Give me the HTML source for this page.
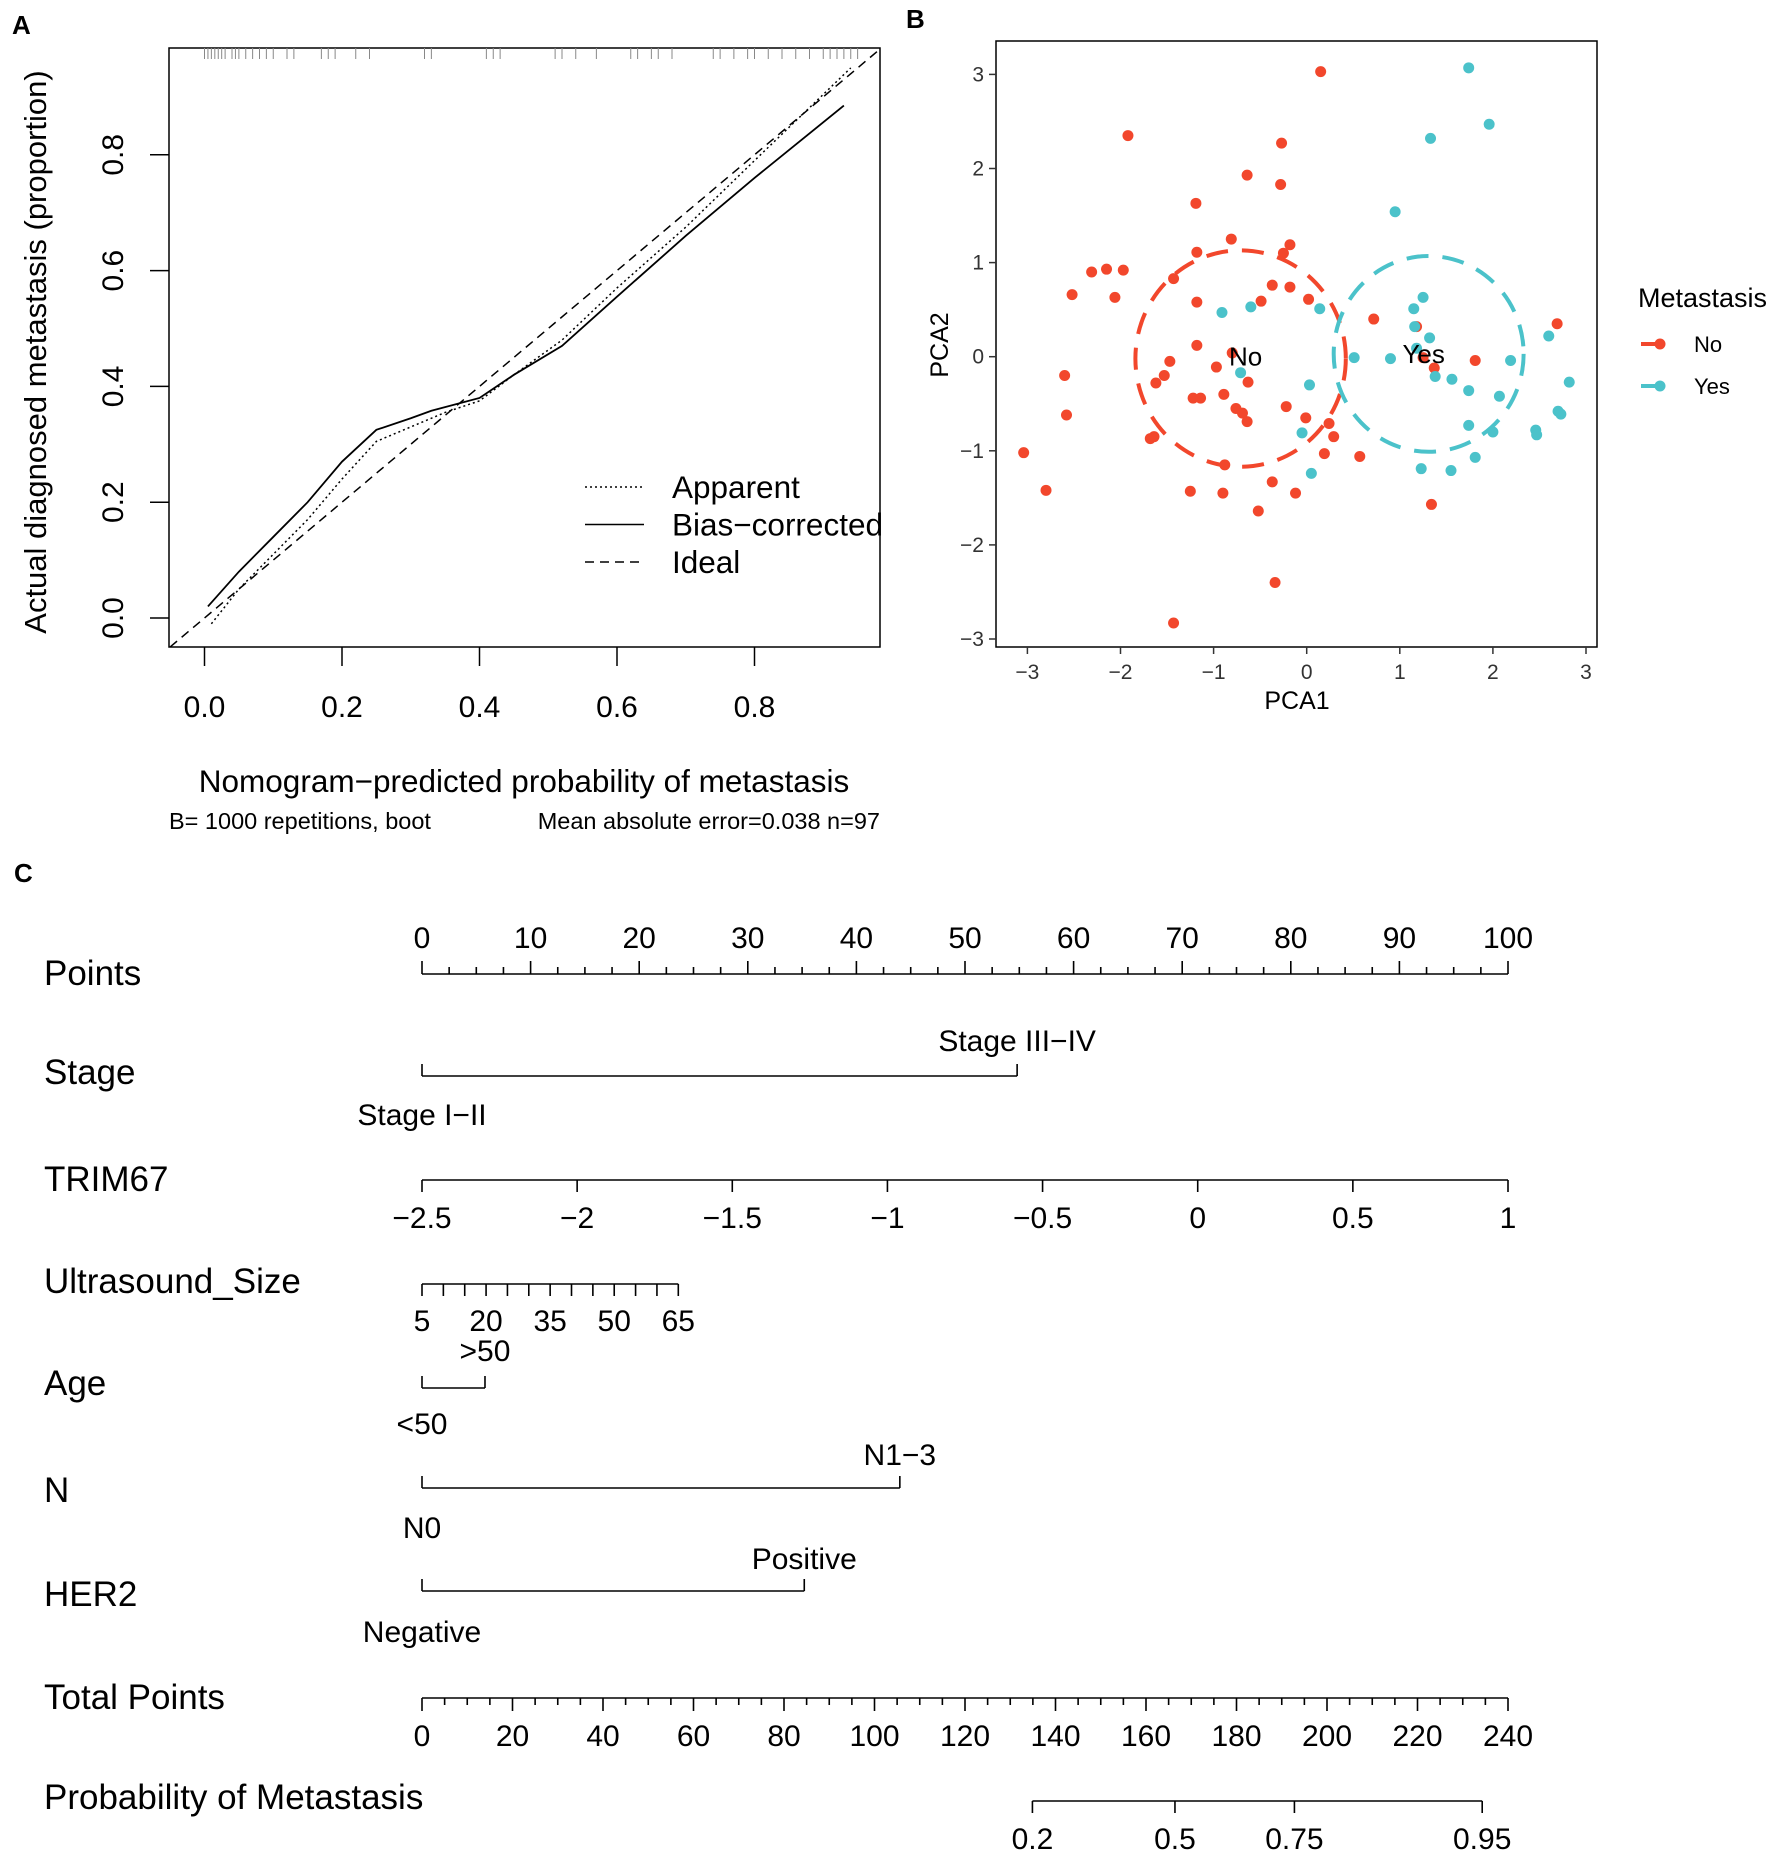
<!DOCTYPE html>
<html><head><meta charset="utf-8"><style>
html,body{margin:0;padding:0;background:#fff}
svg{display:block;font-family:"Liberation Sans",Arial,sans-serif}
</style></head><body>
<svg id="fig" width="1772" height="1855" viewBox="0 0 1772 1855" xmlns="http://www.w3.org/2000/svg">
<g id="pa"></g>
<g id="pb"></g>
<g id="pc"></g>
</svg>
<script>
// ---- Panel A data ----
const calTicks = [0, 0.2, 0.4, 0.6, 0.8];
const biasX = [0.005,0.05,0.1,0.15,0.2,0.25,0.3,0.33,0.4,0.45,0.52,0.6,0.7,0.8,0.93];
const biasY = [0.02,0.08,0.14,0.2,0.27,0.325,0.345,0.358,0.38,0.42,0.47,0.555,0.66,0.76,0.885];
const appX = [0.01,0.05,0.1,0.15,0.2,0.25,0.3,0.35,0.4,0.45,0.52,0.6,0.7,0.8,0.94];
const appY = [-0.01,0.05,0.11,0.17,0.24,0.305,0.33,0.355,0.375,0.42,0.48,0.57,0.675,0.79,0.95];
const rugX = [0,0.005,0.01,0.015,0.02,0.025,0.03,0.04,0.045,0.05,0.06,0.07,0.08,0.09,0.1,0.12,0.13,0.17,0.18,0.19,0.22,0.24,0.32,0.33,0.41,0.42,0.43,0.51,0.52,0.54,0.57,0.62,0.63,0.65,0.66,0.68,0.74,0.75,0.77,0.79,0.8,0.82,0.84,0.86,0.88,0.9,0.91,0.92,0.93,0.94,0.95];
// ---- Panel B data ----
const noX = [0.15,-1.92,-0.27,-0.64,-0.28,-1.19,-0.81,-1.18,-0.25,-0.18,-2.31,-2.15,-1.97,-2.52,-2.06,-1.43,-1.18,-0.37,-0.18,-0.49,0.02,0.72,1.18,2.69,-1.18,-0.80,-1.47,-0.97,1.25,1.37,1.81,-2.60,-1.53,-1.62,-0.63,-1.22,-1.14,-0.89,-0.22,-0.76,-0.69,-0.64,-0.01,0.24,0.29,-2.58,-1.68,-1.64,-3.04,0.19,0.57,-0.88,-2.80,-1.25,-0.90,-0.37,-0.12,-0.52,1.34,-0.34,-1.43];
const noY = [3.03,2.35,2.27,1.93,1.83,1.63,1.25,1.11,1.10,1.19,0.90,0.93,0.92,0.66,0.63,0.83,0.58,0.76,0.74,0.59,0.61,0.40,0.32,0.35,0.12,0.04,-0.05,-0.11,-0.01,-0.12,-0.04,-0.20,-0.20,-0.28,-0.27,-0.44,-0.44,-0.40,-0.53,-0.55,-0.60,-0.69,-0.65,-0.71,-0.85,-0.62,-0.87,-0.85,-1.02,-1.03,-1.06,-1.15,-1.42,-1.43,-1.45,-1.33,-1.45,-1.64,-1.57,-2.40,-2.83];
const yesX = [1.74,1.96,1.33,0.95,1.25,1.15,0.14,-0.60,-0.91,1.16,1.32,1.18,2.60,0.51,0.90,2.19,-0.71,1.38,1.56,1.74,2.82,0.03,2.07,2.70,2.73,-0.05,1.74,2.00,2.46,2.47,0.05,1.23,1.55,1.81];
const yesY = [3.07,2.47,2.32,1.54,0.63,0.51,0.51,0.53,0.47,0.32,0.20,0.09,0.22,-0.01,-0.02,-0.04,-0.17,-0.21,-0.24,-0.36,-0.27,-0.30,-0.42,-0.58,-0.61,-0.81,-0.73,-0.80,-0.78,-0.83,-1.24,-1.19,-1.21,-1.07];
const pcaTicks = [-3,-2,-1,0,1,2,3];
const ellNo = [-0.71,-0.02,1.13,1.15];
const ellYes = [1.31,0.03,1.02,1.04];
// ---- Panel C data ----
const pointTicks = [0,10,20,30,40,50,60,70,80,90,100];
const stagePts = [0,54.8];
const trimVals = [-2.5,-2,-1.5,-1,-0.5,0,0.5,1];
const usVals = [5,20,35,50,65];
const usMaxPts = 23.6;
const agePts = [0,5.8];
const nPts = [0,44];
const her2Pts = [0,35.2];
const totalTicks = [0,20,40,60,80,100,120,140,160,180,200,220,240];
const probVals = ["0.2","0.5","0.75","0.95"];
const probPts = [134.9,166.4,192.8,234.3];

const NS="http://www.w3.org/2000/svg";
function el(parent,tag,attrs,text){const e=document.createElementNS(NS,tag);for(const k in attrs)e.setAttribute(k,attrs[k]);if(text!==undefined)e.textContent=text;parent.appendChild(e);return e;}

// ===== Panel A =====
(function(){
const g=document.getElementById('pa');
const X=v=>204.5+v*687.5, Y=v=>618-v*579;
const L=169,R=880,T=48,B=647;
let t=el(g,'text',{x:12,y:34,'font-size':26,'font-weight':'bold'},'A');

let r=el(g,'rect',{x:L,y:T,width:R-L,height:B-T,fill:'none',stroke:'#000','stroke-width':1.5});

el(g,'defs',{}).innerHTML='<clipPath id="cpa"><rect x="'+L+'" y="'+T+'" width="'+(R-L)+'" height="'+(B-T)+'"/></clipPath>';
calTicks.forEach(v=>{
  let l=el(g,'line',{x1:X(v),x2:X(v),y1:B,y2:B+19,stroke:'#000','stroke-width':1.5});
  
  let tx=el(g,'text',{x:X(v),y:717,'font-size':30,'text-anchor':'middle'},v.toFixed(1));
  
  let l2=el(g,'line',{x1:L-19,x2:L,y1:Y(v),y2:Y(v),stroke:'#000','stroke-width':1.5});
  
  let ty=el(g,'text',{x:0,y:0,'font-size':30,'text-anchor':'middle',transform:'translate(123,'+Y(v)+') rotate(-90)'},v.toFixed(1));
  
});
rugX.forEach(v=>{
  let l=el(g,'line',{x1:X(v),x2:X(v),y1:T,y2:T+11,stroke:'#888','stroke-width':1});
  
});
const cg=el(g,'g',{'clip-path':'url(#cpa)'});
let id=el(cg,'line',{x1:X(-0.1),y1:Y(-0.1),x2:X(1.1),y2:Y(1.1),stroke:'#000','stroke-width':1.5,'stroke-dasharray':'9,6'});

let pa=el(cg,'polyline',{points:appX.map((x,i)=>X(x)+','+Y(appY[i])).join(' '),fill:'none',stroke:'#000','stroke-width':1.5,'stroke-dasharray':'2,3'});

let pb=el(cg,'polyline',{points:biasX.map((x,i)=>X(x)+','+Y(biasY[i])).join(' '),fill:'none',stroke:'#000','stroke-width':1.8});

const leg=[['Apparent','2,3'],['Bias−corrected',''],['Ideal','9,6']];
leg.forEach((d,i)=>{
  const y=487+i*37.5;
  let l=el(g,'line',{x1:585,x2:644,y1:y,y2:y,stroke:'#000','stroke-width':1.5,'stroke-dasharray':d[1]});
  
  let tx=el(g,'text',{x:672,y:y+11,'font-size':31.5},d[0]);
  
});
let yt=el(g,'text',{x:0,y:0,'font-size':31,'text-anchor':'middle',transform:'translate(46,352) rotate(-90)'},'Actual diagnosed metastasis (proportion)');

let xt=el(g,'text',{x:524,y:792,'font-size':31.5,'text-anchor':'middle'},'Nomogram−predicted probability of metastasis');

let s1=el(g,'text',{x:169,y:829,'font-size':23.5},'B= 1000 repetitions, boot');

let s2=el(g,'text',{x:880,y:829,'font-size':23.5,'text-anchor':'end'},'Mean absolute error=0.038 n=97');

})();

// ===== Panel B =====
(function(){
const g=document.getElementById('pb');
const X=v=>1306.7+v*93.1, Y=v=>356.7-v*94.1;
const L=996,R=1597,T=41,B=647;
const RED='#F2472C',CY='#4BC2CA';
let t=el(g,'text',{x:906,y:28,'font-size':26,'font-weight':'bold'},'B');

let r=el(g,'rect',{x:L,y:T,width:R-L,height:B-T,fill:'none',stroke:'#000','stroke-width':1.5});

pcaTicks.forEach(v=>{
  const lab=v<0?'−'+(-v):String(v);
  let l=el(g,'line',{x1:X(v),x2:X(v),y1:B,y2:B+7,stroke:'#333','stroke-width':1.5});
  
  let tx=el(g,'text',{x:X(v),y:679,'font-size':21,'text-anchor':'middle',fill:'#333'},lab);
  
  let l2=el(g,'line',{x1:L-7,x2:L,y1:Y(v),y2:Y(v),stroke:'#333','stroke-width':1.5});
  
  let ty=el(g,'text',{x:984,y:Y(v)+7,'font-size':21,'text-anchor':'end',fill:'#333'},lab);
  
});
let e1=el(g,'ellipse',{cx:X(ellNo[0]),cy:Y(ellNo[1]),rx:ellNo[2]*93.1,ry:ellNo[3]*94.1,fill:'none',stroke:RED,'stroke-width':4,'stroke-dasharray':'22,14'});

let e2=el(g,'ellipse',{cx:X(ellYes[0]),cy:Y(ellYes[1]),rx:ellYes[2]*93.1,ry:ellYes[3]*94.1,fill:'none',stroke:CY,'stroke-width':4,'stroke-dasharray':'22,14'});

noX.forEach((x,i)=>{
  let c=el(g,'circle',{cx:X(x),cy:Y(noY[i]),r:5.5,fill:RED});
  
});
yesX.forEach((x,i)=>{
  let c=el(g,'circle',{cx:X(x),cy:Y(yesY[i]),r:5.5,fill:CY});
  
});
let l1=el(g,'text',{x:X(ellNo[0])+5,y:Y(ellNo[1])+7,'font-size':26,'text-anchor':'middle'},'No');

let l2=el(g,'text',{x:X(ellYes[0])-5,y:Y(ellYes[1])+9,'font-size':26,'text-anchor':'middle'},'Yes');

let xt=el(g,'text',{x:1297,y:709,'font-size':25,'text-anchor':'middle'},'PCA1');

let yt=el(g,'text',{x:0,y:0,'font-size':25,'text-anchor':'middle',transform:'translate(948,345) rotate(-90)'},'PCA2');

let lt=el(g,'text',{x:1638,y:307,'font-size':27},'Metastasis');

[['No',RED,344],['Yes',CY,386]].forEach(d=>{
  let ln=el(g,'line',{x1:1641,x2:1665,y1:d[2],y2:d[2],stroke:d[1],'stroke-width':4});
  
  let c=el(g,'circle',{cx:1660,cy:d[2],r:5.5,fill:d[1]});
  
  let tx=el(g,'text',{x:1694,y:d[2]+8,'font-size':22},d[0]);
  
});
})();

// ===== Panel C =====
(function(){
const g=document.getElementById('pc');
const P=v=>422+v*10.86;            // points scale
const TP=v=>422+v*(1086/240);      // total points scale
const SW=1.6;
let t=el(g,'text',{x:14,y:882,'font-size':26,'font-weight':'bold'},'C');

function rowLabel(txt,y,name){let e=el(g,'text',{x:44,y:y+1,'font-size':35},txt);}
function hline(x1,x2,y,name){let e=el(g,'line',{x1:x1,x2:x2,y1:y,y2:y,stroke:'#000','stroke-width':SW});}
function tick(x,y1,y2){let e=el(g,'line',{x1:x,x2:x,y1:y1,y2:y2,stroke:'#000','stroke-width':SW});}
function lab(txt,x,y,name){let e=el(g,'text',{x:x,y:y+1,'font-size':30,'text-anchor':'middle'},txt);}
// Points
rowLabel('Points',984,'points-label');
hline(P(0),P(100),974,'points-axis');
for(let v=0;v<=100;v+=2.5){const maj=v%10===0;tick(P(v),974,974-(maj?13:7));}
pointTicks.forEach(v=>lab(String(v),P(v),947,'points-tick-label'));
// Stage
rowLabel('Stage',1083,'stage-label');
hline(P(stagePts[0]),P(stagePts[1]),1076,'stage-axis');
stagePts.forEach(v=>tick(P(v),1076,1064));
lab('Stage III−IV',P(stagePts[1]),1050,'stage-iii-iv-label');
lab('Stage I−II',P(stagePts[0]),1124,'stage-i-ii-label');
// TRIM67
rowLabel('TRIM67',1190,'trim67-label');
hline(P(0),P(100),1180,'trim67-axis');
trimVals.forEach(v=>{const x=P((v+2.5)/3.5*100);tick(x,1180,1192);lab(v<0?'−'+(-v):String(v),x,1227,'trim67-tick-label');});
// Ultrasound
rowLabel('Ultrasound_Size',1292,'ultrasound-size-label');
hline(P(0),P(usMaxPts),1284,'ultrasound-axis');
for(let v=5;v<=65;v+=5){tick(P((v-5)/60*usMaxPts),1284,1296);}
usVals.forEach(v=>lab(String(v),P((v-5)/60*usMaxPts),1330,'ultrasound-tick-label'));
// Age
rowLabel('Age',1394,'age-label');
hline(P(agePts[0]),P(agePts[1]),1388,'age-axis');
agePts.forEach(v=>tick(P(v),1388,1376));
lab('>50',P(agePts[1]),1360,'age-gt50-label');
lab('<50',P(agePts[0]),1433,'age-lt50-label');
// N
rowLabel('N',1501,'n-label');
hline(P(nPts[0]),P(nPts[1]),1488,'n-axis');
nPts.forEach(v=>tick(P(v),1488,1476));
lab('N1−3',P(nPts[1]),1464,'n1-3-label');
lab('N0',P(nPts[0]),1537,'n0-label');
// HER2
rowLabel('HER2',1605,'her2-label');
hline(P(her2Pts[0]),P(her2Pts[1]),1591,'her2-axis');
her2Pts.forEach(v=>tick(P(v),1591,1579));
lab('Positive',P(her2Pts[1]),1568,'her2-positive-label');
lab('Negative',P(her2Pts[0]),1641,'her2-negative-label');
// Total points
rowLabel('Total Points',1708,'total-points-label');
hline(TP(0),TP(240),1698,'total-points-axis');
for(let v=0;v<=240;v+=5){const maj=v%20===0;tick(TP(v),1698,1698+(maj?13:7));}
totalTicks.forEach(v=>lab(String(v),TP(v),1745,'total-points-tick-label'));
// Probability
rowLabel('Probability of Metastasis',1808,'probability-label');
hline(TP(probPts[0]),TP(probPts[probPts.length-1]),1801,'probability-axis');
probPts.forEach((v,i)=>{tick(TP(v),1801,1813);lab(probVals[i],TP(v),1848,'probability-tick-label');});
})();
</script>
</body></html>
